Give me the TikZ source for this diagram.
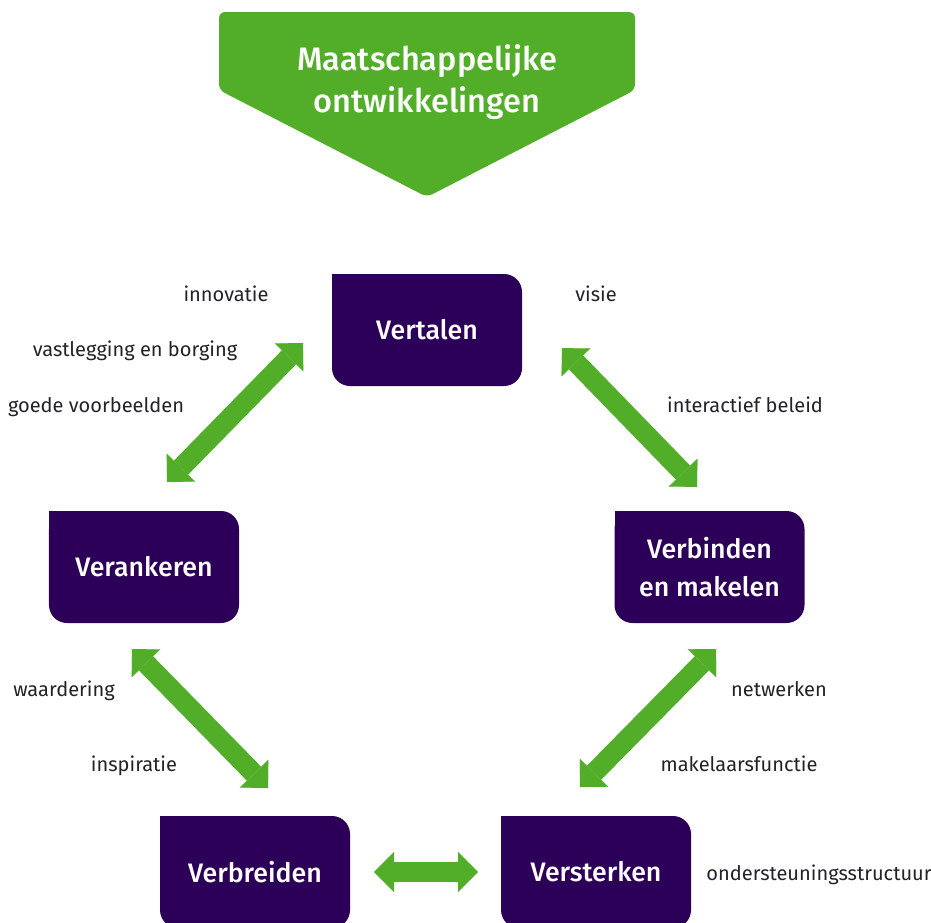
\documentclass[tikz,border=0pt]{standalone}
\usepackage{fontspec}
\setmainfont{Fira Sans}
\newfontfamily\medfont{Fira Sans Medium}
\usetikzlibrary{arrows.meta, positioning}
\definecolor{rogreen}{RGB}{82,174,40}
\definecolor{ropurple}{RGB}{44,0,88}
\definecolor{rotext}{RGB}{34,34,40}

\begin{document}
\begin{tikzpicture}[x=0.2mm, y=-0.2mm,
      box/.style={rectangle, fill=ropurple, rounded corners=3.6mm, text=white, align=center,
        font=\fontsize{15.2}{21.6}\selectfont\medfont, minimum width=38mm, minimum height=22.4mm,
        inner sep=0pt, outer sep=0pt},
      lbl/.style={anchor=base, text=rotext, font=\fontsize{11.4}{13}\selectfont, inner sep=0pt},
      dblarrow/.style={draw=rogreen, line width=4mm, {Triangle[length=4mm, width=8mm, line width=0.1pt]}-{Triangle[length=4mm, width=8mm, line width=0.1pt]}}]

      \useasboundingbox (0,0) rectangle (931,922);

      % Banner
      \fill[rogreen, rounded corners=1.2mm] (219,12) -- (635,12) -- (635,90) -- (427,197) -- (219,90) -- cycle;
      \node[text=white, align=center, font=\fontsize{18.5}{24}\selectfont\medfont] (banner) at (427,82) {Maatschappelijke\\ontwikkelingen};

      \node[box] (vertalen) at (427,330) {Vertalen};
      \node[box] (verankeren) at (144,567) {Verankeren};
      \node[box] (verbinden) at (709.5,567) {Verbinden\\en makelen};
      \node[box] (verbreiden) at (255,872) {Verbreiden};
      \node[box] (versterken) at (596,872) {Versterken};

      % sharp top left corners
      \foreach \b in {vertalen, verankeren, verbinden, verbreiden, versterken} {
        \fill[ropurple] (\b.north west) rectangle ++(4mm,-4mm);
      }

      % Arrows
      \draw[dblarrow] ([shift={(-29,13)}]vertalen.west) -- ([shift={(23,-29)}]verankeren.north);
      \draw[dblarrow] ([shift={(40,18)}]vertalen.east) -- ([shift={(-12.5,-24)}]verbinden.north);
      \draw[dblarrow] ([shift={(6.5,26)}]verbinden.south) -- ([shift={(-16,-29)}]versterken.north);
      \draw[dblarrow] ([shift={(-12,26)}]verankeren.south) -- ([shift={(13,-28)}]verbreiden.north);
      \draw[dblarrow] ([shift={(24,0)}]verbreiden.east) -- ([shift={(-23,0)}]versterken.west);

      % Labels
      \node[lbl] (innovatie) at (226,301) {innovatie};
      \node[lbl] (vastlegging) at (135,356) {vastlegging en borging};
      \node[lbl] (voorbeelden) at (96,412) {goede voorbeelden};
      \node[lbl] (visie) at (596,301) {visie};
      \node[lbl] (beleid) at (745,412) {interactief beleid};
      \node[lbl] (waardering) at (64,696) {waardering};
      \node[lbl] (inspiratie) at (134,771) {inspiratie};
      \node[lbl] (netwerken) at (779,696) {netwerken};
      \node[lbl] (makelaars) at (739,771) {makelaarsfunctie};
      \node[lbl] (structuur) at (819,880) {ondersteuningsstructuur};
    \end{tikzpicture}
\end{document}
